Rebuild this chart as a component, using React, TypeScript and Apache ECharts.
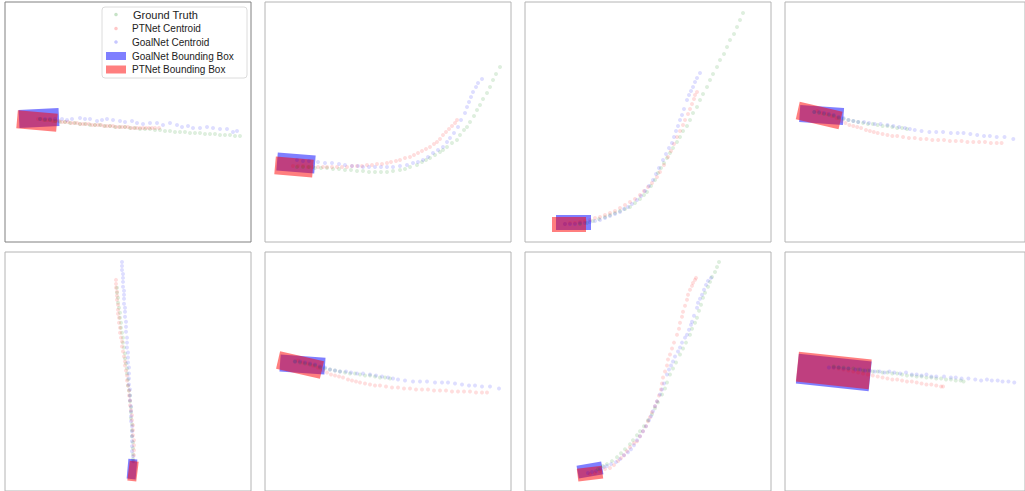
import React, { useEffect, useRef } from "react";
import * as echarts from "echarts";

type P = [number, number];
// box: [centerX, centerY, length, width, headingDeg] in panel coordinates (y grows downward)
type Box = [number, number, number, number, number];

// ---------- Panel 1 ----------
const p1GroundTruth: P[] = [[35,117],[40,118],[45,118],[50,119],[55,120],[60,120],[65,121],[70,121],[75,122],[80,122],[85,123],[90,123],[95,123],[100,124],[105,124],[110,125],[115,125],[120,125],[125,126],[130,126],[135,127],[140,127],[145,127],[150,128],[155,128],[160,129],[165,129],[170,130],[175,130],[180,130],[185,131],[190,131],[195,131],[200,132],[205,132],[210,132],[215,133],[220,133],[225,133],[230,134],[235,134]];
const p1PTNet: P[] = [[33,117],[36,117],[39,118],[42,118],[45,118],[48,119],[51,119],[54,119],[57,120],[60,120],[63,120],[66,121],[69,121],[72,121],[75,122],[78,122],[81,122],[84,122],[87,123],[90,123],[93,123],[96,123],[99,124],[102,124],[105,124],[108,124],[111,125],[114,125],[117,125],[120,125],[123,125],[126,126],[129,126],[132,126],[135,126],[138,126],[141,126],[144,126],[147,126],[150,126],[154,126]];
const p1GoalNet: P[] = [[35,117],[40,117],[45,117],[50,117],[57,117],[62,118],[67,117],[75,116],[80,117],[85,117],[92,119],[97,118],[102,117],[108,118],[115,119],[120,120],[127,119],[132,121],[138,122],[145,121],[152,121],[158,123],[165,121],[172,123],[177,125],[183,124],[188,126],[195,126],[202,125],[208,126],[215,127],[222,127],[228,130],[232,129]];
const p1GoalNetBox: Box = [34, 116, 40, 18, -3];
const p1PTNetBox: Box = [32, 119, 40, 18, 5];

// ---------- Panel 2 ----------
const p2GroundTruth: P[] = [[32,165],[38,165],[44,165],[50,166],[56,166],[62,166],[68,167],[74,167],[80,168],[86,168],[92,169],[98,169],[104,170],[110,170],[116,170],[122,170],[128,169],[135,168],[140,167],[145,165],[152,163],[157,160],[161,158],[165,156],[170,153],[175,150],[178,148],[182,145],[187,141],[192,138],[195,133],[199,128],[202,125],[205,120],[209,114],[212,108],[215,103],[218,97],[222,91],[225,85],[228,78],[231,72],[235,65]];
const p2PTNet: P[] = [[28,164],[33,164],[38,164],[43,165],[48,165],[53,165],[58,165],[62,165],[67,165],[72,165],[77,165],[82,165],[87,164],[92,164],[97,164],[102,163],[107,163],[112,162],[117,162],[122,161],[126,160],[131,159],[135,158],[140,156],[145,155],[149,153],[153,151],[157,149],[161,147],[165,145],[169,142],[172,140],[175,137],[178,133],[181,130],[184,127],[187,124],[190,121],[192,118]];
const p2GoalNet: P[] = [[32,158],[38,159],[44,159],[53,160],[60,161],[67,161],[74,162],[80,163],[87,164],[93,164],[98,165],[104,165],[110,165],[116,165],[122,165],[128,165],[135,164],[142,163],[148,161],[153,160],[158,158],[163,155],[168,151],[173,148],[178,145],[182,140],[185,136],[189,131],[193,125],[196,118],[200,111],[202,105],[204,100],[206,95],[208,90],[211,85],[213,81],[217,77]];
const p2GoalNetBox: Box = [31, 161, 38, 18, 4.6];
const p2PTNetBox: Box = [29, 165, 38, 18, 5];

// ---------- Panel 3 ----------
const p3GroundTruth: P[] = [[55,222],[62,221],[68,219],[74,217],[80,215],[85,213],[90,211],[95,209],[100,207],[105,205],[110,201],[115,197],[119,193],[122,190],[126,184],[130,178],[133,171],[136,166],[139,161],[142,156],[145,151],[148,146],[152,140],[155,135],[158,129],[162,124],[165,118],[168,111],[172,105],[175,98],[178,92],[182,85],[185,78],[188,72],[192,65],[195,58],[199,52],[202,45],[205,38],[209,32],[212,25],[215,18],[218,11]];
const p3PTNet: P[] = [[40,222],[45,221],[50,221],[55,220],[60,219],[65,218],[70,216],[75,215],[80,213],[85,211],[90,209],[95,206],[100,203],[105,200],[110,197],[115,193],[119,189],[123,185],[127,181],[132,175],[135,170],[139,163],[143,155],[146,149],[149,142],[152,135],[155,129],[158,123],[160,118],[163,112],[165,107],[167,102],[169,97],[170,93],[172,90]];
const p3GoalNet: P[] = [[40,222],[45,222],[50,222],[55,221],[60,221],[65,220],[70,219],[75,218],[80,216],[85,214],[90,212],[95,210],[99,207],[103,205],[107,202],[112,198],[116,194],[120,189],[124,184],[128,178],[131,172],[134,166],[138,158],[141,152],[144,146],[147,141],[149,135],[151,129],[153,124],[155,118],[157,113],[159,107],[162,98],[164,93],[166,89],[168,85],[170,80],[172,76],[175,71]];
const p3GoalNetBox: Box = [48.5, 220.5, 35, 15, 0];
const p3PTNetBox: Box = [44, 222.5, 34, 15, 0];

// ---------- Panel 4 (the same scene appears again in panel 6) ----------
const p4GroundTruth: P[] = [[30,110],[35,111],[40,112],[45,113],[50,114],[55,116],[60,117],[65,118],[70,119],[75,120],[80,121],[85,122],[90,122],[95,123],[100,124],[105,124],[110,125],[115,126],[120,126],[125,127]];
const p4PTNet: P[] = [[33,109],[38,111],[43,112],[48,114],[53,116],[58,119],[62,121],[66,123],[70,124],[74,125],[78,126],[83,128],[87,129],[91,130],[95,131],[100,132],[105,133],[110,134],[115,134],[121,135],[127,136],[133,136],[139,137],[145,137],[151,138],[157,138],[163,138],[169,139],[175,139],[181,139],[187,140],[193,140],[199,140],[205,140],[211,141],[217,141],[222,141]];
const p4GoalNet: P[] = [[30,110],[35,110],[40,111],[45,112],[50,113],[55,115],[60,116],[65,118],[70,119],[75,120],[81,120],[86,121],[92,122],[98,122],[105,123],[111,124],[117,125],[123,126],[128,127],[133,128],[140,129],[148,130],[155,130],[162,130],[170,131],[177,131],[183,131],[190,132],[197,133],[204,134],[210,134],[217,135],[225,135],[234,137]];
const p4GoalNetBox: Box = [37.5, 113, 45, 17, 4];
const p4PTNetBox: Box = [35, 113.5, 45, 18, 13];

// ---------- Panel 5 ----------
const p5GroundTruth: P[] = [[112,36],[112,41],[113,46],[113,51],[114,56],[115,61],[115,66],[116,71],[116,76],[117,81],[118,86],[118,91],[119,96],[120,102],[120,107],[121,112],[122,117],[122,122],[123,128],[123,134],[124,139],[125,144],[125,150],[126,156],[126,161],[126,167],[127,173],[127,179],[127,185],[128,191],[128,197],[128,203],[128,208]];
const p5PTNet: P[] = [[111,28],[111,32],[111,36],[112,40],[112,44],[112,48],[113,53],[113,58],[113,62],[114,66],[114,71],[115,76],[115,81],[116,86],[117,90],[117,95],[118,100],[119,105],[120,110],[120,114],[121,119],[122,124],[122,129],[123,134],[124,139],[124,144],[125,149],[125,154],[126,159],[127,164],[127,169],[128,174],[128,179],[128,184],[129,189],[129,194],[129,199],[129,204],[129,210]];
const p5GoalNet: P[] = [[117,10],[117,14],[117,18],[118,22],[118,26],[118,30],[118,35],[119,39],[119,43],[119,47],[119,52],[120,56],[120,60],[120,65],[121,70],[121,75],[121,80],[122,86],[122,91],[122,96],[123,101],[123,106],[123,111],[124,116],[124,122],[124,127],[124,133],[125,138],[125,144],[125,149],[126,155],[126,160],[126,165],[126,170],[127,175],[127,180],[127,185],[127,190],[127,195],[127,200],[128,205],[128,210]];
const p5GoalNetBox: Box = [127, 218, 20, 9, -85];
const p5PTNetBox: Box = [128, 220, 20, 9, -83];

// ---------- Panel 7 ----------
const p7GroundTruth: P[] = [[73,218],[78,215],[82,213],[87,210],[92,206],[96,202],[100,198],[105,193],[108,189],[112,184],[115,180],[119,175],[123,169],[127,163],[130,157],[133,151],[137,143],[140,137],[142,131],[145,123],[148,117],[151,111],[155,103],[158,97],[161,91],[165,83],[167,77],[170,71],[172,66],[174,59],[176,53],[178,46],[180,41],[183,35],[185,30],[187,25],[190,20],[192,15],[194,10]];
const p7PTNet: P[] = [[65,223],[70,222],[75,220],[80,218],[85,217],[89,214],[93,210],[96,207],[99,204],[102,200],[105,196],[109,192],[112,190],[115,185],[118,180],[121,175],[123,170],[125,166],[127,161],[130,155],[132,150],[134,144],[136,138],[137,132],[138,126],[140,120],[142,114],[143,108],[145,103],[147,97],[149,91],[152,83],[154,77],[155,71],[157,65],[158,60],[160,54],[162,48],[163,43],[165,38],[167,34],[168,31],[170,28],[171,26]];
const p7GoalNet: P[] = [[63,222],[67,221],[71,220],[75,218],[79,216],[82,215],[86,213],[91,211],[95,208],[99,204],[103,201],[106,198],[109,194],[112,189],[115,185],[118,180],[121,175],[124,169],[126,165],[128,160],[130,155],[132,150],[135,143],[137,138],[139,132],[142,123],[144,118],[146,114],[148,110],[150,105],[153,100],[155,96],[157,91],[160,86],[162,83],[164,78],[166,73],[167,70],[169,64],[172,56],[173,51],[175,47],[177,43],[179,38],[181,33],[183,29],[186,26]];
const p7GoalNetBox: Box = [65, 219, 25, 13, -10];
const p7PTNetBox: Box = [65, 222.5, 25, 13, -7];

// ---------- Panel 8 ----------
const p8GroundTruth: P[] = [[50,115],[55,116],[60,116],[65,117],[70,117],[75,118],[80,119],[85,119],[90,120],[95,120],[100,121],[105,121],[110,122],[115,122],[120,123],[125,124],[130,124],[135,125],[140,125],[145,126],[150,126],[155,127],[160,127],[165,128],[170,128],[175,129],[180,129],[183,130]];
const p8PTNet: P[] = [[50,116],[55,117],[60,118],[65,119],[70,120],[75,121],[80,122],[85,123],[90,124],[95,125],[100,126],[105,127],[110,128],[115,128],[120,129],[125,130],[130,130],[135,131],[140,132],[145,133],[150,133],[155,134],[160,135],[162,135]];
const p8GoalNet: P[] = [[45,116],[50,116],[55,116],[60,117],[65,117],[72,118],[77,118],[82,119],[87,119],[92,120],[97,120],[102,121],[107,120],[112,121],[118,122],[124,121],[130,123],[135,123],[140,124],[145,123],[150,125],[155,125],[163,125],[170,126],[175,126],[181,127],[188,127],[195,128],[201,129],[207,128],[212,129],[218,129],[223,130],[229,130],[235,131]];
const p8GoalNetBox: Box = [50, 121, 75, 30, 6];
const p8PTNetBox: Box = [50, 119, 75, 30, 6];

const panels = [
  { gt: p1GroundTruth, pt: p1PTNet, gn: p1GoalNet, gnBox: p1GoalNetBox, ptBox: p1PTNetBox },
  { gt: p2GroundTruth, pt: p2PTNet, gn: p2GoalNet, gnBox: p2GoalNetBox, ptBox: p2PTNetBox },
  { gt: p3GroundTruth, pt: p3PTNet, gn: p3GoalNet, gnBox: p3GoalNetBox, ptBox: p3PTNetBox },
  { gt: p4GroundTruth, pt: p4PTNet, gn: p4GoalNet, gnBox: p4GoalNetBox, ptBox: p4PTNetBox },
  { gt: p5GroundTruth, pt: p5PTNet, gn: p5GoalNet, gnBox: p5GoalNetBox, ptBox: p5PTNetBox },
  { gt: p4GroundTruth, pt: p4PTNet, gn: p4GoalNet, gnBox: p4GoalNetBox, ptBox: p4PTNetBox },
  { gt: p7GroundTruth, pt: p7PTNet, gn: p7GoalNet, gnBox: p7GoalNetBox, ptBox: p7PTNetBox },
  { gt: p8GroundTruth, pt: p8PTNet, gn: p8GoalNet, gnBox: p8GoalNetBox, ptBox: p8PTNetBox },
];

const legendLabels = ["Ground Truth", "PTNet Centroid", "GoalNet Centroid", "GoalNet Bounding Box", "PTNet Bounding Box"];

const GT_COLOR = "rgba(0,128,0,0.16)";
const PT_COLOR = "rgba(255,0,0,0.16)";
const GN_COLOR = "rgba(0,0,255,0.16)";
const GN_BOX = "rgba(0,0,255,0.5)";
const PT_BOX = "rgba(255,0,0,0.5)";

function boxRenderer(fill: string) {
  return (_params: any, api: any) => {
    const cx = api.value(0), cy = api.value(1), L = api.value(2), W = api.value(3);
    const a = (api.value(4) * Math.PI) / 180;
    const ux = Math.cos(a), uy = Math.sin(a);
    const vx = -uy, vy = ux;
    const corners = [[1, 1], [1, -1], [-1, -1], [-1, 1]].map(([s, t]) =>
      api.coord([cx + (s * ux * L) / 2 + (t * vx * W) / 2, cy + (s * uy * L) / 2 + (t * vy * W) / 2])
    );
    return { type: "polygon", shape: { points: corners }, style: { fill, stroke: null } };
  };
}

export default function App() {
  const ref = useRef<HTMLDivElement>(null);
  useEffect(() => {
    if (!ref.current) return;
    const chart = echarts.init(ref.current, undefined, { renderer: "svg" });
    const grids: any[] = [], xAxes: any[] = [], yAxes: any[] = [], series: any[] = [];
    panels.forEach((p, i) => {
      const c = i % 4, r = Math.floor(i / 4);
      grids.push({
        left: 5 + 260 * c, top: 2 + 250 * r, width: 246, height: 240,
        show: true, borderColor: i === 0 ? "#808080" : "#b4b4b4", borderWidth: 1, backgroundColor: "#fff",
      });
      xAxes.push({ type: "value", gridIndex: i, min: 0, max: 246, show: false });
      yAxes.push({ type: "value", gridIndex: i, min: 0, max: 240, inverse: true, show: false });
      series.push(
        { type: "custom", name: "GoalNet Bounding Box", xAxisIndex: i, yAxisIndex: i, data: [p.gnBox], encode: { x: 0, y: 1 }, renderItem: boxRenderer(GN_BOX), clip: false, z: 2 },
        { type: "custom", name: "PTNet Bounding Box", xAxisIndex: i, yAxisIndex: i, data: [p.ptBox], encode: { x: 0, y: 1 }, renderItem: boxRenderer(PT_BOX), clip: false, z: 2 },
        { type: "scatter", name: "Ground Truth", xAxisIndex: i, yAxisIndex: i, data: p.gt, symbolSize: 4, itemStyle: { color: GT_COLOR }, z: 3 },
        { type: "scatter", name: "PTNet Centroid", xAxisIndex: i, yAxisIndex: i, data: p.pt, symbolSize: 4, itemStyle: { color: PT_COLOR }, z: 3 },
        { type: "scatter", name: "GoalNet Centroid", xAxisIndex: i, yAxisIndex: i, data: p.gn, symbolSize: 4, itemStyle: { color: GN_COLOR }, z: 3 },
      );
    });

    const rowY = [14.5, 28.5, 42, 56, 69.5];
    const markerColors = ["rgba(0,128,0,0.22)", "rgba(255,0,0,0.22)", "rgba(0,0,255,0.22)"];
    const legendChildren: any[] = [
      { type: "rect", shape: { x: 102, y: 7, width: 145, height: 71, r: 3 }, style: { fill: "rgba(255,255,255,0.85)", stroke: "#dcdcdc", lineWidth: 1 } },
    ];
    legendLabels.forEach((label, k) => {
      if (k < 3) {
        legendChildren.push({ type: "circle", shape: { cx: 116, cy: rowY[k], r: 1.8 }, style: { fill: markerColors[k] } });
      } else {
        legendChildren.push({ type: "rect", shape: { x: 106, y: rowY[k] - 4, width: 20, height: 8 }, style: { fill: k === 3 ? GN_BOX : PT_BOX } });
      }
      legendChildren.push({
        type: "text", x: k === 0 ? 133 : 132, y: rowY[k],
        style: { text: label, fill: "#222", font: `${k === 0 ? 11 : 10}px "Liberation Sans", Arial, sans-serif`, textVerticalAlign: "middle", verticalAlign: "middle" },
      });
    });

    chart.setOption({
      animation: false,
      backgroundColor: "#fff",
      grid: grids,
      xAxis: xAxes,
      yAxis: yAxes,
      series,
      graphic: [{ type: "group", z: 100, children: legendChildren }],
    });
    return () => chart.dispose();
  }, []);
  return <div ref={ref} style={{ position: "absolute", left: 0, top: 0, width: 1025, height: 491 }} />;
}
